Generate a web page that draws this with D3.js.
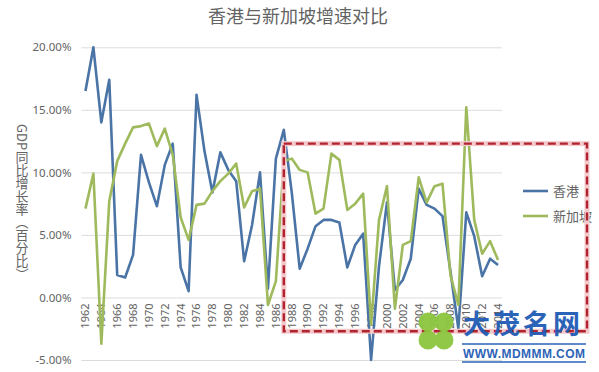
<!DOCTYPE html>
<html>
<head>
<meta charset="utf-8">
<script src="https://cdn.jsdelivr.net/npm/d3@7/dist/d3.min.js"></script>
<title>香港与新加坡增速对比</title>
<style>
	body { margin: 0; background: #fff; }
	text { font-family: "Noto Sans", "Noto Sans CJK SC", sans-serif; }
</style>
</head>
<body>
<script>

	/*------ data ------*/

	var years = d3.range(1962, 2015);

	var hongKong = [16.5, 20.0, 14.0, 17.4, 1.8, 1.6, 3.4, 11.4, 9.2, 7.3,
		10.6, 12.3, 2.4, 0.5, 16.2, 11.7, 8.4, 11.6, 10.2, 9.3,
		2.9, 5.8, 10.0, 0.7, 11.1, 13.4, 8.4, 2.3, 3.9, 5.7,
		6.2, 6.2, 6.0, 2.4, 4.2, 5.1, -5.0, 2.5, 7.6, 0.6,
		1.4, 3.1, 8.7, 7.4, 7.1, 6.5, 2.1, -2.5, 6.8, 4.9,
		1.7, 3.1, 2.6];

	var singapore = [7.1, 9.9, -3.7, 7.7, 10.9, 12.3, 13.6, 13.7, 13.9, 12.1,
		13.5, 11.4, 6.4, 4.6, 7.4, 7.5, 8.5, 9.3, 9.9, 10.7,
		7.2, 8.5, 8.7, -0.6, 1.3, 10.9, 11.1, 10.2, 10.0, 6.7,
		7.1, 11.5, 11.0, 7.0, 7.5, 8.3, -2.2, 6.2, 8.9, -0.9,
		4.2, 4.5, 9.6, 7.6, 8.9, 9.1, 1.8, -0.6, 15.2, 6.2,
		3.5, 4.5, 3.0];

	var seriesNames = ['香港', '新加坡'];
	var seriesColors = ['#4a74a6', '#9fba5c'];
	var yTicks = [-5, 0, 5, 10, 15, 20];

	// highlighted period box: from 1987, between these values
	var boxStartYear = 1987;
	var boxValues = [12.3, -2.7];

	/*------ layout ------*/

	var svgWidth = 599;
	var svgHeight = 372;
	var plotLeft = 81.5, plotRight = 502;
	var plotTop = 47.3, plotBottom = 360;

	var svg = d3.select('body')
		.append('svg')
		.attr('width', svgWidth)
		.attr('height', svgHeight);

	var xScale = d3.scaleBand()
		.domain(years)
		.range([plotLeft, plotRight]);

	var yScale = d3.scaleLinear()
		.domain([-5, 20])
		.range([plotBottom, plotTop]);

	function xc(year) {
		return xScale(year) + xScale.bandwidth() / 2;
	}

	/*----- title -----*/

	svg.append('text')
		.attr('x', 298)
		.attr('y', 23)
		.attr('text-anchor', 'middle')
		.attr('font-size', 18)
		.style('font-family', '"Noto Sans CJK SC", sans-serif')
		.attr('fill', '#636363')
		.text('香港与新加坡增速对比');

	/*----- y axis + grid -----*/

	var yAxis = svg.append('g')
		.attr('transform', 'translate(' + plotLeft + ',0)')
		.call(d3.axisLeft(yScale)
			.tickValues(yTicks)
			.tickSize(-(plotRight - plotLeft))
			.tickPadding(10)
			.tickFormat(function (d) { return d.toFixed(2) + '%'; }));

	yAxis.select('.domain').remove();
	yAxis.selectAll('line').attr('stroke', '#dcdcdc').attr('stroke-width', 1);
	yAxis.selectAll('text')
		.attr('fill', '#636363')
		.attr('font-size', 11.5);

	svg.append('text')
		.attr('x', 22)
		.attr('y', 124)
		.attr('font-size', 13)
		.attr('fill', '#636363')
		.style('font-family', '"Noto Sans CJK SC", sans-serif')
		.style('writing-mode', 'vertical-rl')
		.text('GDP同比增长率（百分比）');

	/*----- x axis labels -----*/

	var xAxis = svg.append('g')
		.attr('transform', 'translate(0,' + yScale(0) + ')')
		.call(d3.axisBottom(xScale)
			.tickValues(years.filter(function (d) { return d % 2 === 0; }))
			.tickSize(0));

	xAxis.select('.domain').remove();
	xAxis.selectAll('text')
		.attr('fill', '#636363')
		.attr('font-size', 11)
		.attr('text-anchor', 'end')
		.attr('transform', 'rotate(-90)')
		.attr('x', -6)
		.attr('y', 0)
		.attr('dy', '0.35em');

	/*----- lines -----*/

	var line = d3.line()
		.x(function (d, i) { return xc(years[i]); })
		.y(function (d) { return yScale(d); });

	[hongKong, singapore].forEach(function (series, i) {
		svg.append('path')
			.datum(series)
			.attr('d', line)
			.attr('fill', 'none')
			.attr('stroke', seriesColors[i])
			.attr('stroke-width', 2.6)
			.attr('stroke-linejoin', 'round');
	});

	/*----- legend -----*/

	var legend = svg.selectAll('.legend')
		.data(seriesNames)
		.enter()
		.append('g')
		.attr('class', 'legend')
		.attr('transform', function (d, i) { return 'translate(523,' + (191 + i * 25) + ')'; });

	legend.append('line')
		.attr('x1', 0).attr('x2', 25)
		.attr('stroke', function (d, i) { return seriesColors[i]; })
		.attr('stroke-width', 2.6);

	legend.append('text')
		.attr('x', 30)
		.attr('dy', '0.35em')
		.attr('font-size', 13)
		.attr('fill', '#636363')
		.style('font-family', '"Noto Sans CJK SC", sans-serif')
		.text(function (d) { return d; });

	/*----- highlight box -----*/

	var bx = xc(boxStartYear);
	var by = yScale(boxValues[0]);
	svg.append('rect')
		.attr('x', bx)
		.attr('y', by)
		.attr('width', 587 - bx)
		.attr('height', yScale(boxValues[1]) - by)
		.attr('fill', 'none')
		.attr('stroke', '#f3c9cc')
		.attr('stroke-width', 5);
	svg.append('rect')
		.attr('x', bx)
		.attr('y', by)
		.attr('width', 587 - bx)
		.attr('height', yScale(boxValues[1]) - by)
		.attr('fill', 'none')
		.attr('stroke', '#b0232f')
		.attr('stroke-width', 2.4)
		.attr('stroke-dasharray', '8,4');

	/*----- watermark -----*/

	var wm = svg.append('g').attr('opacity', 0.95);
	[[428, 322], [444, 322], [428, 340], [444, 340]].forEach(function (c) {
		wm.append('circle')
			.attr('cx', c[0]).attr('cy', c[1]).attr('r', 9.5)
			.attr('fill', '#8cc63f');
	});
	wm.append('text')
		.attr('x', 463).attr('y', 334)
		.attr('font-size', 27)
		.attr('font-weight', 'bold')
		.style('font-family', '"Noto Sans CJK SC", sans-serif')
		.style('letter-spacing', '3px')
		.attr('fill', '#1f5bb5')
		.text('大茂名网');
	wm.append('line')
		.attr('x1', 462).attr('x2', 586).attr('y1', 344).attr('y2', 344)
		.attr('stroke', '#1f5bb5').attr('stroke-width', 1.5);
	wm.append('text')
		.attr('x', 463).attr('y', 358)
		.attr('font-size', 12)
		.attr('font-weight', 'bold')
		.style('font-family', '"Liberation Sans", sans-serif')
		.attr('fill', '#1f5bb5')
		.attr('textLength', 122)
		.text('WWW.MDMMM.COM');
	wm.append('line')
		.attr('x1', 462).attr('x2', 586).attr('y1', 362).attr('y2', 362)
		.attr('stroke', '#1f5bb5').attr('stroke-width', 1.5);

</script>
</body>
</html>
